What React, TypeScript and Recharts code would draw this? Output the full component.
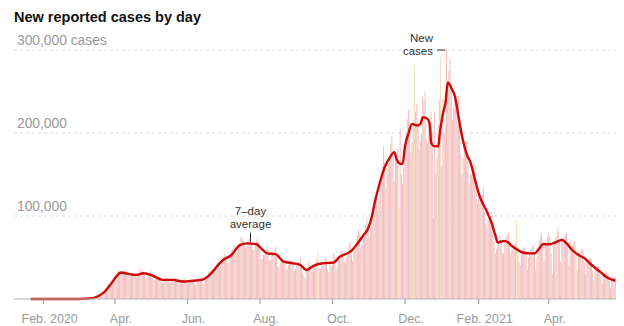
import { ComposedChart, Bar, Line, Cell, XAxis, YAxis, CartesianGrid, ReferenceLine } from 'recharts'

// daily reported cases, in thousands, one row per week starting Tue 21 Jan 2020
const DAILY_K = [
  0, 0, 0, 0, 0, 0, 0,
  0, 0, 0, 0, 0, 0, 0,
  0, 0, 0, 0, 0, 0, 0,
  0, 0, 0, 0, 0, 0, 0,
  0, 0, 0, 0, 0, 0, 0,
  0, 0, 0, 0, 0, 0, 0,
  0, 0, 0, 0, 0, 0, 1,
  0, 0, 1, 1, 1, 1, 2,
  2, 3, 5, 6, 7, 9, 10,
  11, 13, 17, 19, 19, 18, 20,
  25, 27, 29, 32, 34, 27, 29,
  31, 33, 35, 34, 31, 28, 27,
  27, 29, 32, 31, 30, 27, 26,
  28, 37, 33, 35, 32, 29, 25,
  25, 29, 31, 34, 30, 26, 23,
  24, 27, 28, 27, 26, 21, 19,
  22, 21, 27, 25, 24, 18, 22,
  21, 23, 25, 25, 22, 19, 18,
  19, 19, 21, 24, 25, 20, 18,
  21, 20, 22, 23, 22, 18, 17,
  19, 22, 22, 25, 26, 19, 19,
  24, 26, 29, 33, 33, 27, 30,
  34, 37, 40, 44, 42, 38, 40,
  47, 50, 55, 52, 46, 42, 46,
  55, 58, 60, 65, 62, 55, 57,
  65, 67, 75, 74, 70, 64, 61,
  64, 70, 73, 76, 66, 60, 58,
  64, 72, 69, 68, 60, 48, 48,
  53, 54, 55, 64, 59, 46, 47,
  55, 55, 52, 63, 52, 40, 38,
  44, 47, 46, 48, 43, 35, 37,
  41, 44, 45, 47, 45, 34, 36,
  41, 42, 45, 50, 40, 31, 27,
  24, 35, 37, 46, 42, 34, 33,
  38, 39, 45, 48, 55, 36, 36,
  40, 40, 44, 49, 48, 35, 32,
  42, 39, 45, 55, 50, 33, 38,
  48, 51, 57, 58, 53, 45, 43,
  51, 59, 64, 69, 56, 46, 62,
  58, 62, 76, 84, 79, 62, 66,
  73, 79, 89, 98, 86, 75, 85,
  93, 105, 121, 126, 126, 106, 120,
  136, 143, 160, 184, 164, 134, 158,
  162, 172, 187, 196, 176, 142, 174,
  175, 182, 110, 206, 150, 139, 158,
  182, 200, 217, 228, 213, 176, 190,
  210, 282, 225, 235, 210, 180, 190,
  200, 245, 238, 250, 193, 188, 210,
  200, 225, 200, 98, 225, 150, 170,
  210, 240, 292, 160, 240, 200, 210,
  300, 255, 275, 290, 260, 215, 230,
  240, 245, 238, 245, 205, 175, 150,
  170, 185, 190, 190, 175, 140, 150,
  150, 155, 165, 160, 140, 115, 130,
  115, 120, 125, 135, 105, 90, 85,
  95, 95, 100, 105, 90, 70, 55,
  60, 65, 70, 75, 70, 55, 55,
  70, 75, 78, 80, 68, 55, 60,
  60, 65, 68, 95, 62, 45, 40,
  55, 60, 62, 62, 52, 35, 50,
  55, 60, 63, 65, 55, 35, 50,
  55, 70, 75, 80, 65, 45, 70,
  65, 75, 80, 75, 55, 30, 65,
  70, 75, 80, 85, 70, 45, 75,
  72, 75, 78, 80, 65, 40, 70,
  60, 65, 68, 70, 55, 35, 55,
  55, 58, 60, 58, 45, 30, 45,
  45, 48, 50, 48, 35, 22, 38,
  37, 38, 40, 38, 28, 18, 30,
  30, 32, 33, 31, 22, 14, 22,
  25, 27, 26,
]

// days with reporting irregularities (drawn in yellow)
const ANOMALY_DAYS = [242, 310, 323, 345, 409, 459]

// 7-day average, read at these day offsets (thousands)
const AVG_DAY = [0, 40, 52, 56, 61, 67, 72, 76, 80, 83, 89, 95, 103, 111, 120, 128, 137, 144, 149, 155, 159, 162, 169, 176, 182, 190, 194, 199, 206, 213, 221, 227, 232, 238, 246, 255, 260, 263, 269, 274, 280, 284, 287, 290, 294, 298, 302, 306, 308, 311, 313, 315, 318, 321, 325, 328, 330, 334, 336, 337, 340, 343, 344, 347, 349, 351, 354, 357, 360, 363, 367, 370, 374, 378, 384, 388, 391, 393, 398, 402, 404, 409, 414, 420, 424, 428, 431, 437, 441, 447, 451, 455, 461, 466, 472, 479, 485, 492]
const AVG_K = [0, 0, 1, 3, 7, 17, 27, 32, 31, 30, 29, 31, 28, 23, 23, 21, 22, 23, 27, 36, 43, 47, 53, 65, 67, 66, 61, 55, 54, 45, 43, 41, 35, 40, 43, 44, 51, 53, 57, 65, 77, 85, 99, 119, 141, 159, 170, 177, 168, 163, 163, 184, 200, 211, 209, 211, 219, 217, 208, 188, 184, 184, 196, 224, 236, 261, 254, 244, 220, 196, 174, 165, 143, 123, 105, 91, 77, 68, 70, 68, 65, 60, 56, 55, 55, 61, 66, 66, 68, 71, 67, 60, 53, 49, 41, 33, 26, 22]

const TICK_DATES = ['2020-02-01', '2020-04-01', '2020-06-01', '2020-08-01', '2020-10-01', '2020-12-01', '2021-02-01', '2021-04-01']
const TICK_LABELS = ['Feb. 2020', 'Apr.', 'Jun.', 'Aug.', 'Oct.', 'Dec.', 'Feb. 2021', 'Apr.']
const Y_TICKS = [0, 100000, 200000, 300000]
const Y_LABELS = ['', '100,000', '200,000', '300,000 cases']

const START = Date.UTC(2020, 0, 21)
const dayKey = (i: number) => new Date(START + i * 86400000).toISOString().slice(0, 10)

const avgByDay = new Map(AVG_DAY.map((d, k) => [d, AVG_K[k] * 1000]))
const data = DAILY_K.map((k, i) => ({
  date: dayKey(i),
  cases: k * 1000,
  avg: avgByDay.has(i) ? avgByDay.get(i) : null,
}))

const FONT = '"Liberation Sans", Arial, sans-serif'
const PINK = '#f4bfbf'

const XTick = ({ x, y, payload }: any) => {
  const idx = TICK_DATES.indexOf(payload.value)
  return (
    <text x={x + 6} y={y + 19} textAnchor="middle" fontSize={12.5} fill="#999" fontFamily={FONT}>
      {TICK_LABELS[idx]}
    </text>
  )
}

const YTick = ({ y, payload }: any) => {
  const idx = Y_TICKS.indexOf(payload.value)
  return (
    <text x={17} y={y - 5} textAnchor="start" fontSize={13.8} fill="#999" fontFamily={FONT}>
      {Y_LABELS[idx]}
    </text>
  )
}

export default function App() {
  return (
    <div style={{ position: 'absolute', left: 0, top: 0, width: 624, height: 326, background: '#fff' }}>
      <ComposedChart
        width={624}
        height={326}
        data={data}
        margin={{ top: 50, right: 8, left: 13, bottom: 0 }}
        barCategoryGap={0}
        barGap={0}
      >
        <CartesianGrid vertical={false} stroke="#ddd" strokeDasharray="3 3" />
        <XAxis
          dataKey="date"
          ticks={TICK_DATES}
          interval={0}
          height={27}
          padding={{ left: 16, right: 0 }}
          axisLine={{ stroke: '#bbb' }}
          tickLine={{ stroke: '#999' }}
          tickSize={5}
          tickMargin={0}
          tick={<XTick />}
        />
        <YAxis
          width={1}
          domain={[0, 300000]}
          ticks={Y_TICKS}
          interval={0}
          axisLine={false}
          tickLine={false}
          tick={<YTick />}
        />
        <Bar dataKey="cases" fill={PINK} isAnimationActive={false}>
          {data.map((d, i) => (
            <Cell key={d.date} fill={ANOMALY_DAYS.includes(i) ? '#f8dfb0' : PINK} />
          ))}
        </Bar>
        <Line
          dataKey="avg"
          type="monotone"
          connectNulls
          stroke="#cf0a0a"
          strokeWidth={2.4}
          dot={false}
          activeDot={false}
          isAnimationActive={false}
        />
        <ReferenceLine
          segment={[{ x: dayKey(185), y: 69000 }, { x: dayKey(185), y: 80000 }]}
          stroke="#333"
          ifOverflow="visible"
        />
        <ReferenceLine
          segment={[{ x: dayKey(342), y: 300000 }, { x: dayKey(349), y: 300000 }]}
          stroke="#333"
          ifOverflow="visible"
        />
      </ComposedChart>
      <svg width={624} height={326} style={{ position: 'absolute', left: 0, top: 0, pointerEvents: 'none' }}>
        <text x={14} y={22} fontSize={14.5} fontWeight="bold" fill="#121212" fontFamily={FONT}>
          New reported cases by day
        </text>
        <g fontSize={11.5} fill="#333" fontFamily={FONT}>
          <text x={250.5} y={214.5} textAnchor="middle">7–day</text>
          <text x={250.5} y={227.5} textAnchor="middle">average</text>
          <text x={433} y={41.5} textAnchor="end">New</text>
          <text x={433} y={54.5} textAnchor="end">cases</text>
        </g>
      </svg>
    </div>
  )
}
